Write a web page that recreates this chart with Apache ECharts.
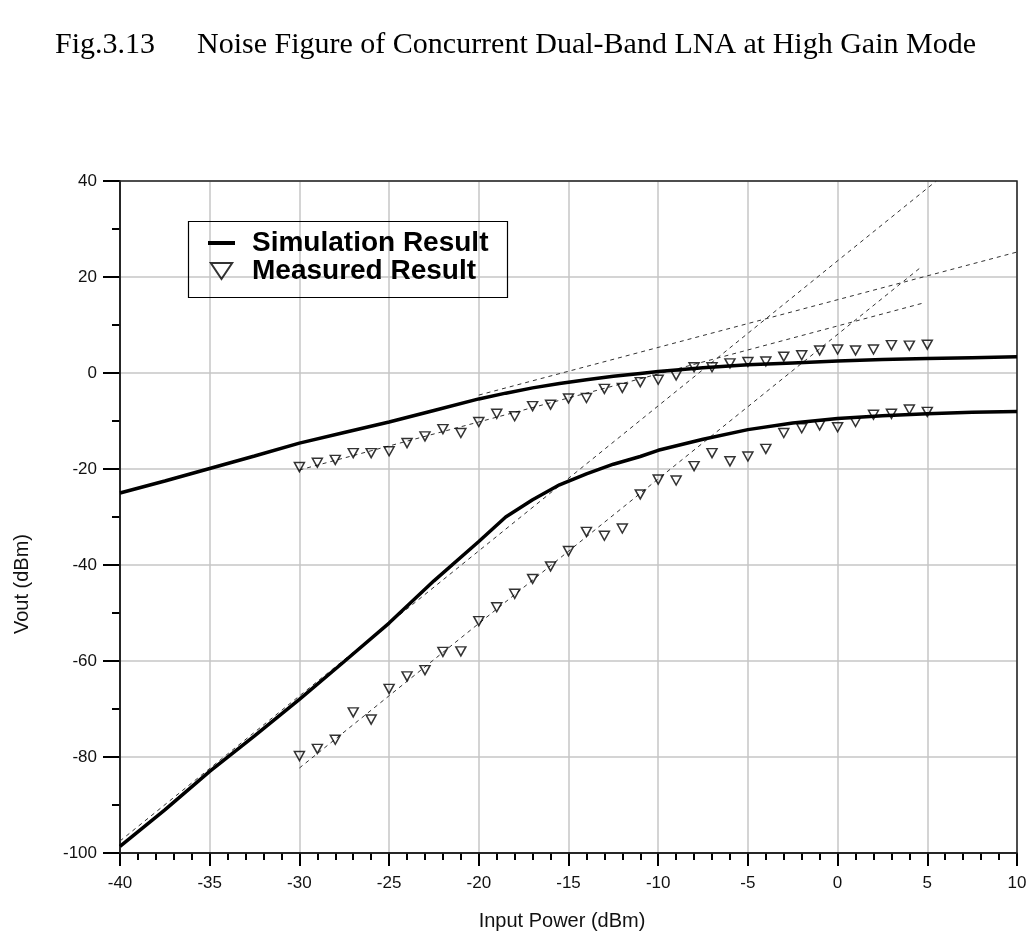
<!DOCTYPE html>
<html><head><meta charset="utf-8">
<script src="https://cdn.jsdelivr.net/npm/echarts@6/dist/echarts.min.js"></script>
<style>html,body{margin:0;padding:0;background:#fff}#c{width:1031px;height:947px}</style>
</head><body><div id="c"></div>
<script>
// Simulation curves (input power dBm -> Vout dBm)
const simX = [-40,-37.5,-35,-32.5,-30,-27.5,-25,-22.5,-20,-18.5,-17,-15.5,-14,-12.5,-11,-10,-7.5,-5,-2.5,0,2.5,5,7.5,10];
const simUpper = [-25.0,-22.5,-19.9,-17.3,-14.6,-12.4,-10.2,-7.8,-5.4,-4.2,-3.1,-2.2,-1.4,-0.7,-0.1,0.3,1.1,1.7,2.1,2.5,2.8,3.0,3.2,3.4];
const simLower = [-98.6,-91.0,-83.0,-75.6,-68.0,-60.1,-52.1,-43.3,-35.1,-30.0,-26.4,-23.3,-21.0,-19.0,-17.4,-16.1,-13.8,-11.8,-10.4,-9.5,-8.9,-8.5,-8.2,-8.0];
// Measured points
const measX = [-30,-29,-28,-27,-26,-25,-24,-23,-22,-21,-20,-19,-18,-17,-16,-15,-14,-13,-12,-11,-10,-9,-8,-7,-6,-5,-4,-3,-2,-1,0,1,2,3,4,5];
const measUpper = [-19.6,-18.7,-18.1,-16.7,-16.7,-16.3,-14.6,-13.2,-11.7,-12.5,-10.2,-8.5,-9.0,-6.9,-6.6,-5.3,-5.2,-3.3,-3.1,-1.9,-1.4,-0.5,1.2,1.2,2.0,2.3,2.4,3.4,3.7,4.7,4.9,4.7,4.9,5.8,5.7,5.9];
const measLower = [-79.8,-78.3,-76.4,-70.7,-72.2,-65.8,-63.2,-61.9,-58.1,-58.0,-51.7,-48.8,-46.0,-42.9,-40.3,-37.1,-33.1,-33.9,-32.4,-25.3,-22.2,-22.4,-19.4,-16.7,-18.4,-17.4,-15.8,-12.5,-11.5,-10.9,-11.3,-10.2,-8.7,-8.5,-7.6,-8.1];
// Extrapolation (dashed) lines: [x0, x1], [y0, y1]
const extSimLowerX = [-40, 5.5],  extSimLowerY = [-97.5, 40];
const extSimUpperX = [-20, 10],   extSimUpperY = [-4.6, 25.2];
const extMeasUpperX = [-30, 4.7], extMeasUpperY = [-20.2, 14.5];
const extMeasLowerX = [-30, 4.7], extMeasLowerY = [-82.3, 22.2];

const zip = (xs, ys) => xs.map((x, i) => [x, ys[i]]);
const FONT = "'Liberation Sans', Arial, sans-serif";
const dashed = (name, xs, ys) => ({
  name, type: 'line', data: zip(xs, ys), symbol: 'none', silent: true, z: 2,
  lineStyle: { color: '#333', width: 1, type: [4, 4] }
});
const measured = (name, ys) => ({
  name, type: 'scatter', data: zip(measX, ys), symbol: 'triangle', symbolRotate: 180,
  symbolSize: [10, 9], z: 5,
  itemStyle: { color: 'rgba(255,255,255,0)', borderColor: '#000', borderWidth: 1.5 }
});
const sim = (ys) => ({
  name: 'Simulation Result', type: 'line', data: zip(simX, ys), symbol: 'none', z: 4,
  lineStyle: { color: '#000', width: 3.5 }, itemStyle: { color: '#000' }
});

const chart = echarts.init(document.getElementById('c'), null, { renderer: 'canvas' });
chart.setOption({
  animation: false,
  backgroundColor: '#fff',
  grid: { left: 120, right: 14, top: 181, bottom: 94, show: false },
  legend: {
    orient: 'vertical', left: 208, top: 229, padding: 0, itemGap: 0,
    itemWidth: 27, itemHeight: 16,
    data: [
      { name: 'Simulation Result', icon: 'path://M0,0H27V4H0Z' },
      { name: 'Measured Result', icon: 'path://M0,0 L20,0 L10,15 Z' }
    ],
    textStyle: { fontFamily: FONT, fontSize: 28, fontWeight: 'bold', color: '#000', lineHeight: 28, padding: [0, 0, 0, 12] },
    selectedMode: false
  },
  xAxis: {
    type: 'value', min: -40, max: 10, interval: 5,
    axisLine: { onZero: false, lineStyle: { color: '#000', width: 1.5 } },
    axisTick: { length: 13, lineStyle: { color: '#000', width: 2 } },
    minorTick: { show: true, splitNumber: 5, length: 7, lineStyle: { color: '#000', width: 2 } },
    splitLine: { show: true, lineStyle: { color: '#c6c6c6', width: 1.5 } },
    axisLabel: { fontFamily: FONT, fontSize: 17, color: '#111', margin: 22 }
  },
  yAxis: {
    type: 'value', min: -100, max: 40, interval: 20,
    axisLine: { onZero: false, lineStyle: { color: '#000', width: 1.5 } },
    axisTick: { length: 17, lineStyle: { color: '#000', width: 2 } },
    minorTick: { show: true, splitNumber: 2, length: 8, lineStyle: { color: '#000', width: 2 } },
    splitLine: { show: true, lineStyle: { color: '#c6c6c6', width: 1.5 } },
    axisLabel: { fontFamily: FONT, fontSize: 17, color: '#111', margin: 23 }
  },
  graphic: [
    { type: 'text', left: 55, top: 30, style: { text: 'Fig.3.13', font: "30px 'Liberation Serif', 'Times New Roman', serif", fill: '#000' } },
    { type: 'text', left: 197, top: 30, style: { text: 'Noise Figure of Concurrent Dual-Band LNA at High Gain Mode', font: "30px 'Liberation Serif', 'Times New Roman', serif", fill: '#000' } },
    { type: 'text', x: 562, y: 921, style: { text: 'Input Power (dBm)', font: "20px " + FONT, fill: '#111', align: 'center', verticalAlign: 'middle' } },
    { type: 'text', x: 22, y: 584, rotation: Math.PI / 2, style: { text: 'Vout (dBm)', font: "20px " + FONT, fill: '#111', align: 'center', verticalAlign: 'middle' } },
    { type: 'rect', x: 120, y: 181, z: 1, shape: { width: 897, height: 672 }, style: { fill: 'none', stroke: '#222', lineWidth: 1.5 } },
    { type: 'rect', left: 186, top: 219, z: 10, shape: { width: 319, height: 76 }, style: { fill: 'none', stroke: '#000', lineWidth: 1.2 } }
  ],
  series: [
    dashed('ext1', extSimLowerX, extSimLowerY),
    dashed('ext2', extSimUpperX, extSimUpperY),
    dashed('ext3', extMeasUpperX, extMeasUpperY),
    dashed('ext4', extMeasLowerX, extMeasLowerY),
    sim(simUpper),
    sim(simLower),
    measured('Measured Result', measUpper),
    measured('Measured Result', measLower)
  ]
});
</script></body></html>
